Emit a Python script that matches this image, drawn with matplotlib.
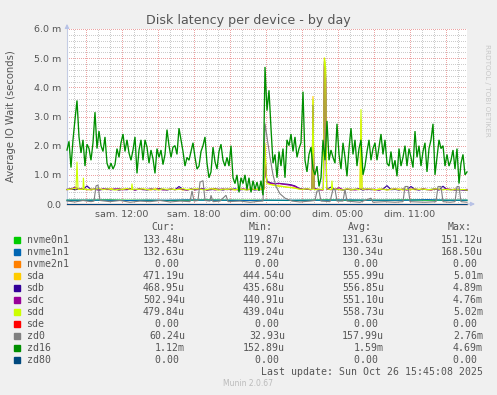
import numpy as np
import matplotlib.pyplot as plt
from matplotlib.patches import Rectangle

W, H = 497, 395

# time window: 400 samples of 5 min ending sun 15:45 (hours since sat 00:00)
START = 7 + 25 / 60
SPAN = 2000  # minutes

DEVICES = ["nvme0n1", "nvme1n1", "nvme2n1", "sda", "sdb", "sdc",
           "sdd", "sde", "zd0", "zd16", "zd80"]
COLORS = ["#00CC00", "#0066B3", "#FF8000", "#FFCC00", "#330099", "#990099",
          "#CCFF00", "#FF0000", "#808080", "#008F00", "#00487D"]
CUR = ["133.48u", "132.63u", "0.00 ", "471.19u", "468.95u", "502.94u",
       "479.84u", "0.00 ", "60.24u", "1.12m", "0.00 "]
MIN = ["119.87u", "119.24u", "0.00 ", "444.54u", "435.68u", "440.91u",
       "439.04u", "0.00 ", "32.93u", "152.89u", "0.00 "]
AVG = ["131.63u", "130.34u", "0.00 ", "555.99u", "556.85u", "551.10u",
       "558.73u", "0.00 ", "157.99u", "1.59m", "0.00 "]
MAX = ["151.12u", "168.50u", "0.00 ", "5.01m", "4.89m", "4.76m",
       "5.02m", "0.00 ", "2.76m", "4.69m", "0.00 "]

TICK_HOURS = [12, 18, 24, 30, 36]
TICK_LABELS = ["sam. 12:00", "sam. 18:00", "dim. 00:00", "dim. 05:00", "dim. 11:00"]

# zd16, one value every 10 min (ms)
ZD16 = [1.85, 2.15, 1.25, 2.2, 2.9, 3.55, 2.3, 1.75, 2.2, 1.3,
        2.05, 1.9, 1.5, 2.1, 3.15, 1.9, 2.5, 2.0, 1.8, 2.3,
        1.4, 1.2, 1.4, 1.2, 1.35, 1.9, 1.6, 2.1, 2.4, 1.8,
        2.2, 1.75, 1.5, 1.85, 2.3, 1.05, 1.85, 2.2, 1.5, 2.2, 1.95,
        1.4, 1.85, 1.55, 1.05, 1.9, 1.6, 1.85, 1.35, 1.7, 2.55,
        2.0, 1.6, 1.95, 2.0, 1.7, 2.6, 2.2, 1.8, 1.3, 1.6,
        1.5, 1.8, 2.1, 1.6, 1.2, 1.3, 1.8, 2.0, 2.3, 1.4,
        0.9, 1.1, 1.95, 1.45, 1.2, 1.8, 2.05, 1.5, 1.3, 1.6,
        1.3, 2.0, 0.9, 0.7, 1.0, 0.4, 0.9, 0.7, 1.0, 0.5,
        0.9, 0.4, 0.8, 0.5, 0.75, 0.45, 0.8, 0.3, 4.7, 3.2,
        3.9, 2.6, 1.4, 1.7, 0.9, 1.8, 1.3, 1.9, 0.9, 2.2,
        2.0, 2.4, 1.8, 2.3, 1.6, 1.9, 2.1, 3.85, 1.5, 1.1,
        1.7, 1.95, 1.2, 1.0, 1.3, 0.6, 0.9, 2.2, 1.5, 2.85,
        1.5, 1.85, 1.6, 1.4, 2.75, 1.7, 1.2, 2.1, 1.6, 0.95,
        1.9, 2.6, 1.7, 2.2, 1.3, 1.9, 2.2, 1.0, 1.3, 1.8,
        2.2, 1.5, 1.9, 2.1, 1.5, 1.95, 2.4, 1.7, 2.2, 1.4,
        1.3, 1.8, 1.2, 1.5, 0.95, 1.9, 1.3, 1.6, 2.0, 1.3,
        1.9, 1.6, 1.25, 2.5, 1.6, 2.0, 1.3, 1.8, 2.1, 1.1,
        1.9, 2.2, 2.75, 1.0, 1.6, 2.2, 1.9, 2.0, 1.3, 1.7,
        1.3, 1.5, 1.85, 1.2, 1.9, 0.7, 1.4, 1.7, 1.0, 1.1]

# disks, one value every 20 min (ms)
SDA = [0.50, 0.52, 0.49, 0.51, 0.53, 0.50, 0.48, 0.52, 0.50, 0.51,
       0.49, 0.53, 0.50, 0.48, 0.51, 0.52, 0.50, 0.49, 0.52, 0.51,
       0.50, 0.48, 0.52, 0.53, 0.50, 0.49, 0.51, 0.50, 0.52, 0.48,
       0.50, 0.51, 0.49, 0.52, 0.50, 0.48, 0.51, 0.53, 0.50, 0.49,
       0.51, 0.50, 0.48, 0.52, 0.50, 0.51, 0.49, 0.50, 0.52, 0.51,
       0.75, 0.68, 0.64, 0.62, 0.60, 0.58, 0.57, 0.55, 0.52, 0.50,
       0.51, 0.49, 0.52, 0.50, 0.48, 0.51, 0.50, 0.52, 0.49, 0.50,
       0.51, 0.48, 0.50, 0.52, 0.49, 0.51, 0.50, 0.48, 0.52, 0.50,
       0.49, 0.51, 0.50, 0.52, 0.48, 0.50, 0.51, 0.49, 0.50, 0.52,
       0.50, 0.48, 0.51, 0.50, 0.49, 0.52, 0.50, 0.48, 0.50, 0.49, 0.47]
SDB = [0.50, 0.52, 0.49, 0.51, 0.50, 0.62, 0.49, 0.51, 0.48, 0.50,
       0.52, 0.49, 0.51, 0.48, 0.50, 0.49, 0.52, 0.48, 0.51, 0.50,
       0.48, 0.51, 0.49, 0.52, 0.50, 0.48, 0.51, 0.49, 0.60, 0.50,
       0.48, 0.51, 0.49, 0.50, 0.52, 0.48, 0.49, 0.51, 0.50, 0.48,
       0.51, 0.49, 0.52, 0.48, 0.50, 0.49, 0.51, 0.48, 0.50, 0.49,
       0.78, 0.72, 0.70, 0.71, 0.69, 0.68, 0.66, 0.62, 0.54, 0.50,
       0.51, 0.49, 0.52, 0.48, 0.50, 0.51, 0.58, 0.49, 0.50, 0.48,
       0.51, 0.49, 0.50, 0.52, 0.48, 0.51, 0.49, 0.50, 0.48, 0.51,
       0.63, 0.49, 0.50, 0.48, 0.51, 0.49, 0.60, 0.50, 0.48, 0.51,
       0.49, 0.50, 0.52, 0.48, 0.61, 0.49, 0.50, 0.48, 0.49, 0.48, 0.47]
SDC = [0.49, 0.51, 0.58, 0.50, 0.52, 0.49, 0.51, 0.50, 0.48, 0.52,
       0.50, 0.49, 0.51, 0.53, 0.49, 0.50, 0.52, 0.48, 0.51, 0.49,
       0.50, 0.52, 0.49, 0.51, 0.48, 0.50, 0.51, 0.49, 0.52, 0.50,
       0.48, 0.51, 0.49, 0.50, 0.52, 0.49, 0.51, 0.48, 0.50, 0.52,
       0.49, 0.51, 0.50, 0.48, 0.52, 0.49, 0.50, 0.51, 0.49, 0.50,
       0.74, 0.71, 0.69, 0.70, 0.68, 0.66, 0.64, 0.60, 0.53, 0.50,
       0.51, 0.49, 0.52, 0.50, 0.48, 0.51, 0.49, 0.50, 0.56, 0.49,
       0.50, 0.51, 0.48, 0.50, 0.52, 0.49, 0.51, 0.50, 0.48, 0.51,
       0.49, 0.50, 0.52, 0.49, 0.51, 0.48, 0.50, 0.52, 0.49, 0.51,
       0.50, 0.48, 0.51, 0.49, 0.50, 0.52, 0.49, 0.51, 0.50, 0.49, 0.50]
SDD = [0.49, 0.51, 0.54, 0.50, 0.52, 0.49, 0.51, 0.50, 0.53, 0.49,
       0.52, 0.50, 0.48, 0.51, 0.50, 0.53, 0.49, 0.51, 0.50, 0.52,
       0.49, 0.51, 0.50, 0.48, 0.52, 0.50, 0.51, 0.49, 0.50, 0.53,
       0.49, 0.50, 0.52, 0.51, 0.49, 0.50, 0.52, 0.50, 0.48, 0.51,
       0.50, 0.52, 0.49, 0.51, 0.50, 0.48, 0.52, 0.50, 0.49, 0.51,
       0.70, 0.66, 0.63, 0.61, 0.60, 0.57, 0.56, 0.54, 0.51, 0.50,
       0.52, 0.50, 0.49, 0.51, 0.50, 0.52, 0.49, 0.51, 0.50, 0.48,
       0.52, 0.50, 0.51, 0.49, 0.50, 0.52, 0.51, 0.49, 0.50, 0.51,
       0.48, 0.50, 0.52, 0.49, 0.51, 0.50, 0.49, 0.52, 0.50, 0.51,
       0.49, 0.50, 0.52, 0.51, 0.49, 0.50, 0.48, 0.51, 0.49, 0.50, 0.48]

# single-sample spikes (minutes from window start, ms)
SDA_SPK_T = [985, 990, 995, 1225, 1230, 1235, 1282, 1287, 1293, 1298, 1465, 1470, 1475]
SDA_SPK_V = [0.50, 2.00, 1.10, 0.50, 3.70, 0.50, 0.50, 5.01, 4.60, 0.55, 0.50, 2.90, 0.50]
SDB_SPK_T = [985, 990, 995, 1225, 1230, 1235, 1282, 1287, 1293, 1298]
SDB_SPK_V = [0.55, 1.80, 1.00, 0.55, 3.40, 0.55, 0.55, 4.89, 4.40, 0.55]
SDC_SPK_T = [985, 990, 995, 1225, 1230, 1235, 1282, 1287, 1293, 1298]
SDC_SPK_V = [0.52, 1.70, 0.95, 0.52, 3.20, 0.52, 0.52, 4.76, 4.30, 0.55]
SDD_SPK_T = [45, 50, 55, 78, 82, 86, 322, 325, 328, 985, 990, 995, 1225, 1230, 1235,
             1282, 1287, 1293, 1298, 1322, 1325, 1328, 1465, 1470, 1475]
SDD_SPK_V = [0.50, 1.45, 0.50, 0.50, 0.90, 0.50, 0.50, 0.70, 0.50, 0.50, 2.10, 1.10,
             0.50, 3.60, 0.50, 0.50, 5.02, 4.70, 0.55, 0.50, 0.80, 0.50, 0.50, 3.25, 0.50]

# zd0 breakpoints (minutes, ms)
ZD0_T = [0, 40, 80, 120, 135, 145, 155, 165, 215, 265, 315, 365, 415, 465, 515,
         565, 615, 625, 635, 655, 665, 680, 690, 715, 720, 730, 765, 795, 805,
         865, 915, 955, 980, 990, 1000, 1015, 1030, 1045, 1065, 1090, 1125,
         1165, 1215, 1240, 1250, 1260, 1270, 1315, 1330, 1340, 1350, 1380,
         1390, 1400, 1465, 1520, 1530, 1590, 1640, 1680, 1690, 1705, 1715,
         1790, 1845, 1855, 1870, 1880, 1915, 1940, 1950, 1960, 1970, 2000]
ZD0_V = [0.10, 0.07, 0.12, 0.08, 0.10, 0.62, 0.65, 0.12, 0.08, 0.12, 0.06, 0.10,
         0.08, 0.12, 0.07, 0.10, 0.08, 0.45, 0.10, 0.12, 0.75, 0.80, 0.12, 0.10,
         0.30, 0.08, 0.10, 0.30, 0.08, 0.10, 0.06, 0.09, 0.10, 2.76, 2.30, 1.60,
         1.00, 0.60, 0.35, 0.20, 0.10, 0.07, 0.10, 0.12, 0.45, 0.45, 0.10, 0.08,
         0.50, 0.50, 0.10, 0.10, 0.50, 0.10, 0.06, 0.20, 0.06, 0.08, 0.06, 0.08,
         0.60, 0.60, 0.08, 0.06, 0.08, 0.60, 0.60, 0.08, 0.06, 0.08, 0.60, 0.60,
         0.08, 0.06]

# nvme, one value every 100 min (ms)
NVME0 = [0.13, 0.13, 0.14, 0.13, 0.13, 0.12, 0.13, 0.14, 0.13, 0.13, 0.13,
         0.12, 0.13, 0.14, 0.13, 0.13, 0.13, 0.14, 0.13, 0.13, 0.13]
NVME1 = [0.13, 0.13, 0.13, 0.12, 0.13, 0.13, 0.14, 0.13, 0.13, 0.12, 0.13,
         0.13, 0.13, 0.13, 0.14, 0.13, 0.13, 0.13, 0.15, 0.13, 0.13]
ZERO = [0.0, 0.0]


def hours(minutes):
    return START + np.asarray(minutes, dtype=float) / 60


def merged(base, step, spk_t, spk_v):
    t = np.concatenate([np.arange(len(base)) * step, spk_t])
    v = np.concatenate([base, spk_v])
    o = np.argsort(t, kind="stable")
    return hours(t[o]), v[o]


series = {
    "nvme0n1": (hours(np.arange(len(NVME0)) * 100), NVME0),
    "nvme1n1": (hours(np.arange(len(NVME1)) * 100), NVME1),
    "nvme2n1": (hours([0, SPAN]), ZERO),
    "sda": merged(SDA, 20, SDA_SPK_T, SDA_SPK_V),
    "sdb": merged(SDB, 20, SDB_SPK_T, SDB_SPK_V),
    "sdc": merged(SDC, 20, SDC_SPK_T, SDC_SPK_V),
    "sdd": merged(SDD, 20, SDD_SPK_T, SDD_SPK_V),
    "sde": (hours([0, SPAN]), ZERO),
    "zd0": (hours(ZD0_T), ZD0_V),
    "zd16": (hours(np.arange(len(ZD16)) * 10), ZD16),
    "zd80": (hours([0, SPAN]), ZERO),
}

TXT = "#555555"

fig = plt.figure(figsize=(W / 100, H / 100), dpi=100, facecolor="#F0F0F0")
ax = fig.add_axes([67 / W, 1 - 204 / H, 400 / W, 175 / H])
ax.set_facecolor("white")
ax.set_xlim(START, START + SPAN / 60)
ax.set_ylim(0, 6.0)

# grid: light dotted lines
dots = (0, (1, 2))
xend = START + SPAN / 60
ax.vlines(np.arange(8, 41), 0, 6, colors="#CCCCCC", lw=0.72, linestyles=dots,
          antialiased=False, zorder=0)
ax.hlines(np.arange(0.2, 6.01, 0.2), START, xend, colors="#CCCCCC",
          lw=0.72, linestyles=dots, antialiased=False, zorder=0)
ax.vlines(np.arange(9, 41, 3), 0, 6, colors="#ECA4A4", lw=0.72, linestyles=dots,
          antialiased=False, zorder=1)
ax.hlines(np.arange(1, 6.01, 1), START, xend, colors="#ECA4A4",
          lw=0.72, linestyles=dots, antialiased=False, zorder=1)

for name, col in zip(DEVICES, COLORS):
    t, v = series[name]
    lw = 0.95 if name == "zd16" else 0.8
    ax.plot(t, v, color=col, lw=lw, zorder=3, clip_on=False, solid_joinstyle="miter")

for s in ["top", "right"]:
    ax.spines[s].set_visible(False)
for s in ["left", "bottom"]:
    ax.spines[s].set_color("#C4CCE4")
    ax.spines[s].set_linewidth(0.8)
    ax.spines[s].set_zorder(2)

ax.set_xticks(TICK_HOURS)
ax.set_xticklabels(TICK_LABELS)
ax.set_yticks(np.arange(0, 6.01, 1))
ax.set_yticklabels(["0.0"] + [f"{v:.1f} m" for v in range(1, 7)])
ax.tick_params(axis="both", length=0, labelsize=6.8, labelcolor=TXT)
ax.tick_params(axis="x", pad=4.5)
ax.tick_params(axis="y", pad=4.3)

# axis arrows
ax.annotate("", xy=(1.027, 0), xytext=(0.995, 0), xycoords="axes fraction",
            arrowprops=dict(arrowstyle="-|>", color="#B8C2E6", lw=0.8,
                            mutation_scale=6), annotation_clip=False)
ax.annotate("", xy=(0, 1.045), xytext=(0, 0.99), xycoords="axes fraction",
            arrowprops=dict(arrowstyle="-|>", color="#B8C2E6", lw=0.8,
                            mutation_scale=6), annotation_clip=False)

fig.text(248 / W, 1 - 20.5 / H, "Disk latency per device - by day", ha="center",
         va="center", fontsize=9.1, color=TXT)
fig.text(11 / W, 1 - 116 / H, "Average IO Wait (seconds)", rotation=90,
         ha="center", va="center", fontsize=7.2, color=TXT)
fig.text(487 / W, 1 - 44 / H, "RRDTOOL / TOBI OETIKER", rotation=270,
         ha="center", va="top", fontsize=5.2, color="#C8C8C8")

# legend table
mono = dict(family="DejaVu Sans Mono", fontsize=7.1, color=TXT, va="center")
hy = 227.5
for x, lab in zip([151, 249, 348, 448], ["Cur:", "Min:", "Avg:", "Max:"]):
    fig.text(x / W, 1 - hy / H, lab, ha="left", **mono)
for i, name in enumerate(DEVICES):
    y = 240 + 12 * i
    fig.patches.append(Rectangle((14 / W, 1 - (y + 3) / H), 6 / W, 6 / H,
                                 transform=fig.transFigure, color=COLORS[i]))
    fig.text(26.5 / W, 1 - y / H, name, ha="left", **mono)
    for x, col in zip([185, 285, 384, 483], [CUR, MIN, AVG, MAX]):
        fig.text(x / W, 1 - y / H, col[i], ha="right", **mono)
fig.text(483 / W, 1 - 372 / H, "Last update: Sun Oct 26 15:45:08 2025",
         ha="right", **mono)
fig.text(248 / W, 1 - 384 / H, "Munin 2.0.67", ha="center", va="center",
         fontsize=5.5, color="#BBBBBB")

fig.savefig("out.png", dpi=100, facecolor=fig.get_facecolor())
